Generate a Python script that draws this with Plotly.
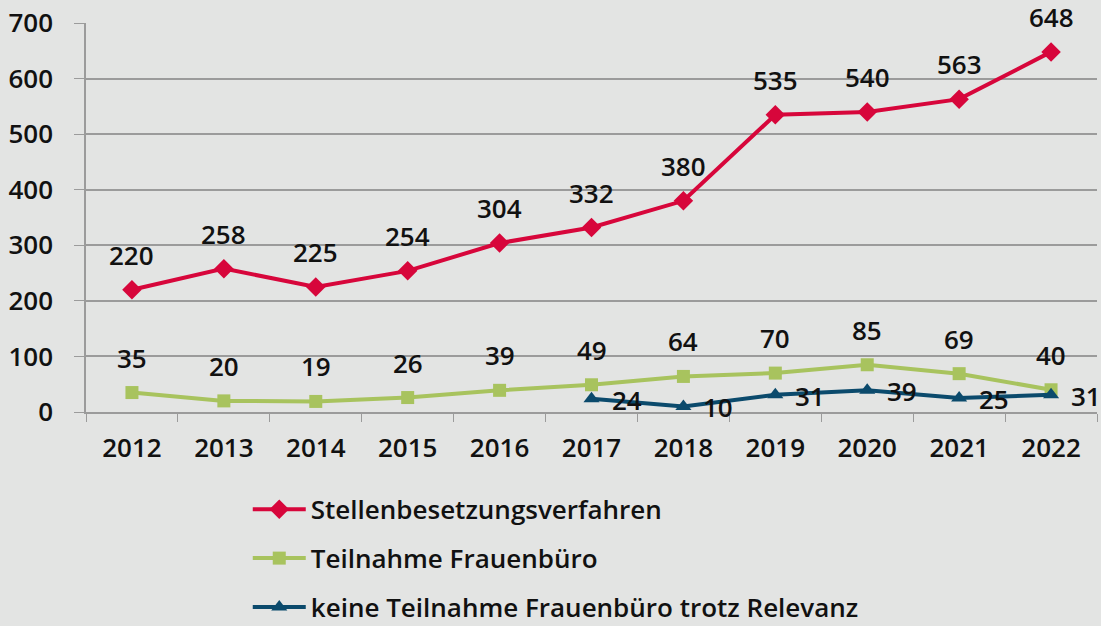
import plotly.graph_objects as go

years = ["2012", "2013", "2014", "2015", "2016", "2017", "2018", "2019", "2020", "2021", "2022"]
stellen = [220, 258, 225, 254, 304, 332, 380, 535, 540, 563, 648]
teilnahme = [35, 20, 19, 26, 39, 49, 64, 70, 85, 69, 40]
keine_years = ["2017", "2018", "2019", "2020", "2021", "2022"]
keine = [24, 10, 31, 39, 25, 31]

RED = "#d7063b"
GREEN = "#a8c35e"
BLUE = "#0b4a6c"
BG = "#e3e4e3"
GRID = "#9b9b9b"
FONT = "Open Sans"
FS = 26

fig = go.Figure()
fig.add_trace(go.Scatter(x=years, y=stellen, name="Stellenbesetzungsverfahren",
                         mode="lines+markers", legendgroup="a",
                         line=dict(color=RED, width=4),
                         marker=dict(symbol="diamond", size=15, color=RED)))
fig.add_trace(go.Scatter(x=years, y=teilnahme, name="Teilnahme Frauenbüro",
                         mode="lines+markers", legendgroup="b",
                         line=dict(color=GREEN, width=4),
                         marker=dict(symbol="square", size=13, color=GREEN)))
fig.add_trace(go.Scatter(x=keine_years, y=keine, name="keine Teilnahme Frauenbüro trotz Relevanz",
                         mode="lines+markers", legendgroup="c",
                         line=dict(color=BLUE, width=4),
                         marker=dict(symbol="triangle-up", size=14, color=BLUE)))

annotations = []
lab_font = dict(family=FONT, size=FS, color="#111111", weight=600)
for x, y in zip(years, stellen):
    annotations.append(dict(x=years.index(x), y=y, text=str(y), showarrow=False, yshift=35, font=lab_font))
for x, y in zip(years, teilnahme):
    annotations.append(dict(x=years.index(x), y=y, text=str(y), showarrow=False, yshift=35, font=lab_font))
for x, y in zip(keine_years, keine):
    annotations.append(dict(x=years.index(x), y=y, text=str(y), showarrow=False, xanchor="left",
                            xshift=18, yshift=-1, font=lab_font))

fig.update_layout(
    width=1101, height=626,
    paper_bgcolor=BG, plot_bgcolor=BG,
    margin=dict(l=86, r=4, t=23, b=214, autoexpand=False),
    font=dict(family=FONT, size=FS, color="#111111", weight=600),
    annotations=annotations,
    showlegend=True,
    legend=dict(orientation="v", x=0.16, xanchor="left", y=-0.19, yanchor="top",
                tracegroupgap=12, itemwidth=53, bgcolor="rgba(0,0,0,0)",
                font=dict(family=FONT, size=FS, color="#111111", weight=600)),
    xaxis=dict(type="category", tickson="boundaries", ticks="outside", ticklen=8,
               tickcolor=GRID, showline=True, linecolor=GRID, linewidth=1.5,
               showgrid=False, ticklabelstandoff=12, range=[-0.5, 10.5],
               tickfont=dict(family=FONT, size=FS, color="#111111", weight=600)),
    yaxis=dict(range=[0, 700], dtick=100, ticks="outside", ticklen=10, tickcolor=GRID,
               showline=True, linecolor=GRID, linewidth=1.5, gridcolor=GRID, gridwidth=1.5,
               zeroline=False, ticklabelstandoff=16,
               tickfont=dict(family=FONT, size=FS, color="#111111", weight=600)),
)

fig.write_html("out.html")
